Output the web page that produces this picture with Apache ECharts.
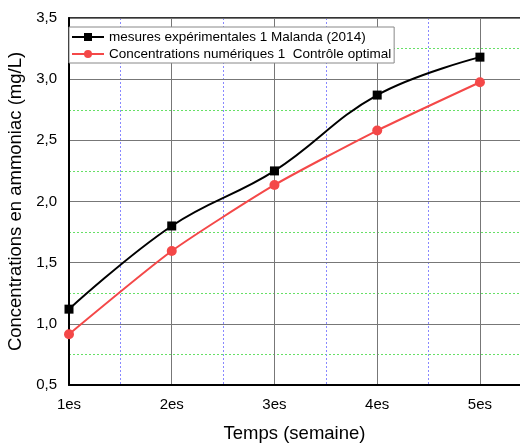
<!DOCTYPE html>
<html>
<head>
<meta charset="utf-8">
<script src="https://cdn.jsdelivr.net/npm/echarts@6/dist/echarts.min.js"></script>
<style>html,body{margin:0;padding:0;background:#fff}#c{width:520px;height:443px}</style>
</head>
<body>
<div id="c"></div>
<script>
const weeks = [1, 2, 3, 4, 5];
const weekLabels = ['1es', '2es', '3es', '4es', '5es'];
const mesures = [1.12, 1.80, 2.25, 2.87, 3.18];
const numeriques = [0.915, 1.595, 2.135, 2.58, 2.975];
const seriesNames = ['mesures expérimentales 1 Malanda (2014)', 'Concentrations numériques 1  Contrôle optimal'];
const xTitle = 'Temps (semaine)';
const yTitle = 'Concentrations en ammoniac (mg/L)';

const font = 'Liberation Sans, Arial, sans-serif';
const chart = echarts.init(document.getElementById('c'), null, {renderer: 'canvas'});
const xMax = 5.39;
chart.setOption({
  animation: false,
  backgroundColor: '#fff',
  grid: {left: 69, top: 18, right: 0, bottom: 58, containLabel: false, outerBoundsMode: 'none'},
  legend: {
    orient: 'vertical', left: 69, top: 27,
    backgroundColor: '#fff', borderColor: '#888', borderWidth: 1,
    padding: [3, 3, 2, 2], itemGap: 3, itemWidth: 32, itemHeight: 10,
    textStyle: {fontFamily: font, fontSize: 13.5, color: '#000'},
    data: seriesNames
  },
  xAxis: [{
    type: 'value', min: 1, max: xMax, interval: 1, z: 3,
    axisLine: {show: true, onZero: false, lineStyle: {color: '#000', width: 2}},
    axisTick: {show: false},
    axisLabel: {margin: 12, fontFamily: font, fontSize: 15, color: '#000',
      formatter: v => { const i = weeks.indexOf(v); return i >= 0 ? weekLabels[i] : ''; }},
    splitLine: {show: true, lineStyle: {color: '#777', width: 1}},
    name: xTitle, nameLocation: 'middle', nameGap: 39,
    nameTextStyle: {fontFamily: font, fontSize: 18.5, color: '#000'}
  }, {
    type: 'value', position: 'top', min: 1, max: xMax, interval: 0.5, z: 1,
    axisLine: {show: true, onZero: false, lineStyle: {color: '#333', width: 2}},
    axisTick: {show: false}, axisLabel: {show: false},
    splitLine: {show: true, lineStyle: {color: '#8888ff', width: 1, type: [2, 2]}}
  }],
  yAxis: [{
    type: 'value', min: 0.5, max: 3.5, interval: 0.5, z: 3,
    axisLine: {show: true, onZero: false, lineStyle: {color: '#000', width: 2}},
    axisTick: {show: false},
    axisLabel: {margin: 12, fontFamily: font, fontSize: 15, color: '#000',
      formatter: v => v.toFixed(1).replace('.', ',')},
    splitLine: {show: true, lineStyle: {color: '#777', width: 1}},
    name: yTitle, nameLocation: 'middle', nameGap: 34,
    nameTextStyle: {fontFamily: font, fontSize: 18.5, color: '#000'}
  }, {
    type: 'value', position: 'right', min: 0.5, max: 3.5, interval: 0.25, z: 1,
    axisLine: {show: false}, axisTick: {show: false}, axisLabel: {show: false},
    splitLine: {show: true, lineStyle: {color: '#66e066', width: 1, type: [2, 2]}}
  }],
  series: [{
    name: seriesNames[0], type: 'line', smooth: 0.4,
    data: weeks.map((w, i) => [w, mesures[i]]),
    symbol: 'rect', symbolSize: 9, z: 5,
    lineStyle: {color: '#000', width: 2}, itemStyle: {color: '#000'}
  }, {
    name: seriesNames[1], type: 'line', smooth: 0.2,
    data: weeks.map((w, i) => [w, numeriques[i]]),
    symbol: 'circle', symbolSize: 10, z: 5,
    lineStyle: {color: '#f44848', width: 2}, itemStyle: {color: '#f44848'}
  }]
});
</script>
</body>
</html>
